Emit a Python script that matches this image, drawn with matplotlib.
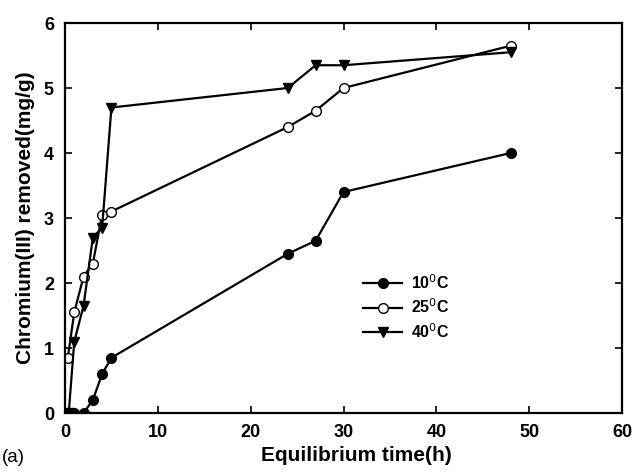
import matplotlib
matplotlib.use("Agg")
import matplotlib.pyplot as plt

plt.rcParams['font.family'] = ['Liberation Sans', 'DejaVu Sans']

# data
t10 = [0, 0.5, 1, 2, 3, 4, 5, 24, 27, 30, 48]
c10 = [0, 0, 0, 0, 0.2, 0.6, 0.85, 2.45, 2.65, 3.4, 4.0]
t25 = [0.3, 1, 2, 3, 4, 5, 24, 27, 30, 48]
c25 = [0.85, 1.55, 2.1, 2.3, 3.05, 3.1, 4.4, 4.65, 5.0, 5.65]
t40 = [0.4, 1, 2, 3, 4, 5, 24, 27, 30, 48]
c40 = [0, 1.1, 1.65, 2.7, 2.85, 4.7, 5.0, 5.35, 5.35, 5.55]

fig = plt.figure(figsize=(6.36, 4.73), dpi=100)
ax = fig.add_axes([65/636, 1 - 413/473, 557/636, 390/473])

ax.plot(t10, c10, '-o', color='black', mfc='black', ms=7, lw=1.6, label='10$^{0}$C')
ax.plot(t25, c25, '-o', color='black', mfc='white', ms=7, lw=1.6, label='25$^{0}$C')
ax.plot(t40, c40, '-v', color='black', mfc='black', ms=7, lw=1.6, label='40$^{0}$C')

ax.set_xlim(0, 60)
ax.set_ylim(0, 6)
ax.set_xticks(range(0, 61, 10))
ax.set_yticks(range(0, 7))
ax.tick_params(direction='in', top=True, right=True, length=5, width=1.2,
               labelsize=13, pad=8)
for lab in ax.get_xticklabels() + ax.get_yticklabels():
    lab.set_fontweight('bold')
for s in ax.spines.values():
    s.set_linewidth(1.6)

ax.set_xlabel('Equilibrium time(h)', fontsize=15, fontweight='bold')
ax.xaxis.set_label_coords(0.523, -0.085)
ax.set_ylabel('Chromium(III) removed(mg/g)', fontsize=15, fontweight='bold', labelpad=6)

leg = ax.legend(loc='upper left', bbox_to_anchor=(0.51, 0.395), frameon=False,
                handlelength=2.4, labelspacing=0.35, handletextpad=0.6,
                prop={'weight': 'bold', 'size': 11.5})

fig.text(2/636, 1 - 462/473, '(a)', fontsize=13.5)

fig.savefig('out.png', dpi=100)
